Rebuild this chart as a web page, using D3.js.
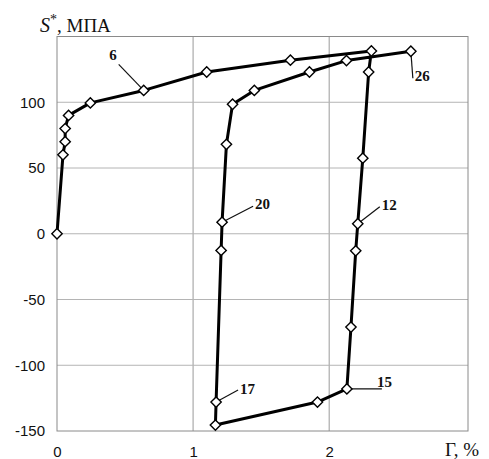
<!DOCTYPE html>
<html>
<head>
<meta charset="utf-8">
<script src="https://cdn.jsdelivr.net/npm/d3@7"></script>
<style>
  body { margin: 0; background: #fff; }
  svg { display: block; }
</style>
</head>
<body>
<svg width="489" height="459"></svg>
<script>
var gamma = [0, 0.044, 0.06, 0.06, 0.085, 0.245, 0.637, 1.10, 1.715, 2.31,
             2.29, 2.247, 2.21, 2.195, 2.16, 2.13, 1.914, 1.164, 1.169, 1.206,
             1.213, 1.245, 1.29, 1.45, 1.855, 2.127, 2.60];
var stress = [0, 60, 70, 80, 90, 99.5, 109, 123, 132, 139,
              123, 57.5, 7.6, -13, -71, -118, -128, -145.5, -128, -12.7,
              8.8, 68, 98.5, 109, 123, 131.7, 138.8];
var xTicks = [0, 1, 2];
var yTicks = [-150, -100, -50, 0, 50, 100];
// point numbers shown on the chart and the index of the marker they point at
var labelText = ["6", "20", "12", "17", "15", "26"];
var labelPoint = [6, 20, 12, 18, 15, 26];

var svg = d3.select("svg");
var x = d3.scaleLinear().domain([0, 3.02]).range([57, 468]);
var y = d3.scaleLinear().domain([-150, 150]).range([431, 36.5]);

var g = svg.append("g");

// grid
g.selectAll(".gx").data(xTicks.slice(1)).enter().append("line")
    .attr("x1", function(d) { return x(d); }).attr("x2", function(d) { return x(d); })
    .attr("y1", y(150)).attr("y2", y(-150))
    .attr("stroke", "#9a9a9a").attr("stroke-width", 1);
g.selectAll(".gy").data(yTicks.slice(1)).enter().append("line")
    .attr("x1", x(0)).attr("x2", x(3.02))
    .attr("y1", function(d) { return y(d); }).attr("y2", function(d) { return y(d); })
    .attr("stroke", "#b4b4b4").attr("stroke-width", 1);
g.append("rect")
    .attr("x", x(0)).attr("y", y(150))
    .attr("width", x(3.02) - x(0)).attr("height", y(-150) - y(150))
    .attr("fill", "none").attr("stroke", "#8a8a8a").attr("stroke-width", 1);

// axes (labels only)
var ax = g.append("g").attr("transform", "translate(0," + y(-150) + ")")
    .call(d3.axisBottom(x).tickValues(xTicks).tickSize(0).tickPadding(15).tickFormat(function(d) { return String(d); }));
var ay = g.append("g").attr("transform", "translate(" + x(0) + ",0)")
    .call(d3.axisLeft(y).tickValues(yTicks).tickSize(0).tickPadding(12).tickFormat(function(d) { return String(d); }));
[ax, ay].forEach(function(a) {
  a.select(".domain").remove();
  a.selectAll("text").attr("fill", "#111")
    .style("font", "15px 'Liberation Sans', Arial, sans-serif");
});

// axis titles
var t = svg.append("text").attr("x", 40).attr("y", 32)
    .style("font", "19px 'Liberation Serif', 'Times New Roman', serif").attr("fill", "#111");
t.append("tspan").style("font-style", "italic").style("font-size", "20px").text("S");
t.append("tspan").attr("dy", -8).style("font-size", "14px").text("*");
t.append("tspan").attr("dy", 8).text(", МПА");
svg.append("text").attr("x", 445).attr("y", 456)
    .style("font", "19px 'Liberation Serif', 'Times New Roman', serif").attr("fill", "#111")
    .text("Γ, %");

// leaders and numbers
var leaderDx = [-25, 31, 22, 22, 35, 2];
var leaderDy = [-26, -16, -17, -12, 0, 27];
var textDx = [-27, 33, 24, 24, 30, 4];
var textDy = [-30, -13, -14, -8, -2, 30];
labelText.forEach(function(s, i) {
  var px = x(gamma[labelPoint[i]]), py = y(stress[labelPoint[i]]);
  g.append("line")
    .attr("x1", px).attr("y1", py)
    .attr("x2", px + leaderDx[i]).attr("y2", py + leaderDy[i])
    .attr("stroke", "#111").attr("stroke-width", 1.2);
  g.append("text")
    .attr("x", px + textDx[i]).attr("y", py + textDy[i])
    .attr("text-anchor", i == 0 ? "end" : "start")
    .style("font", "bold 15px 'Liberation Serif', 'Times New Roman', serif")
    .attr("fill", "#111")
    .text(s);
});

// loop
var pts = d3.zip(gamma, stress);
var line = d3.line()
    .x(function(d) { return x(d[0]); })
    .y(function(d) { return y(d[1]); });
g.append("path").datum(pts)
    .attr("d", line)
    .attr("fill", "none").attr("stroke", "#000")
    .attr("stroke-width", 3).attr("stroke-linejoin", "round");

g.selectAll(".pt").data(pts).enter().append("path")
    .attr("transform", function(d) { return "translate(" + x(d[0]) + "," + y(d[1]) + ")"; })
    .attr("d", d3.symbol().type(d3.symbolDiamond2).size(68))
    .attr("fill", "#fff").attr("stroke", "#000").attr("stroke-width", 1.4);
</script>
</body>
</html>
